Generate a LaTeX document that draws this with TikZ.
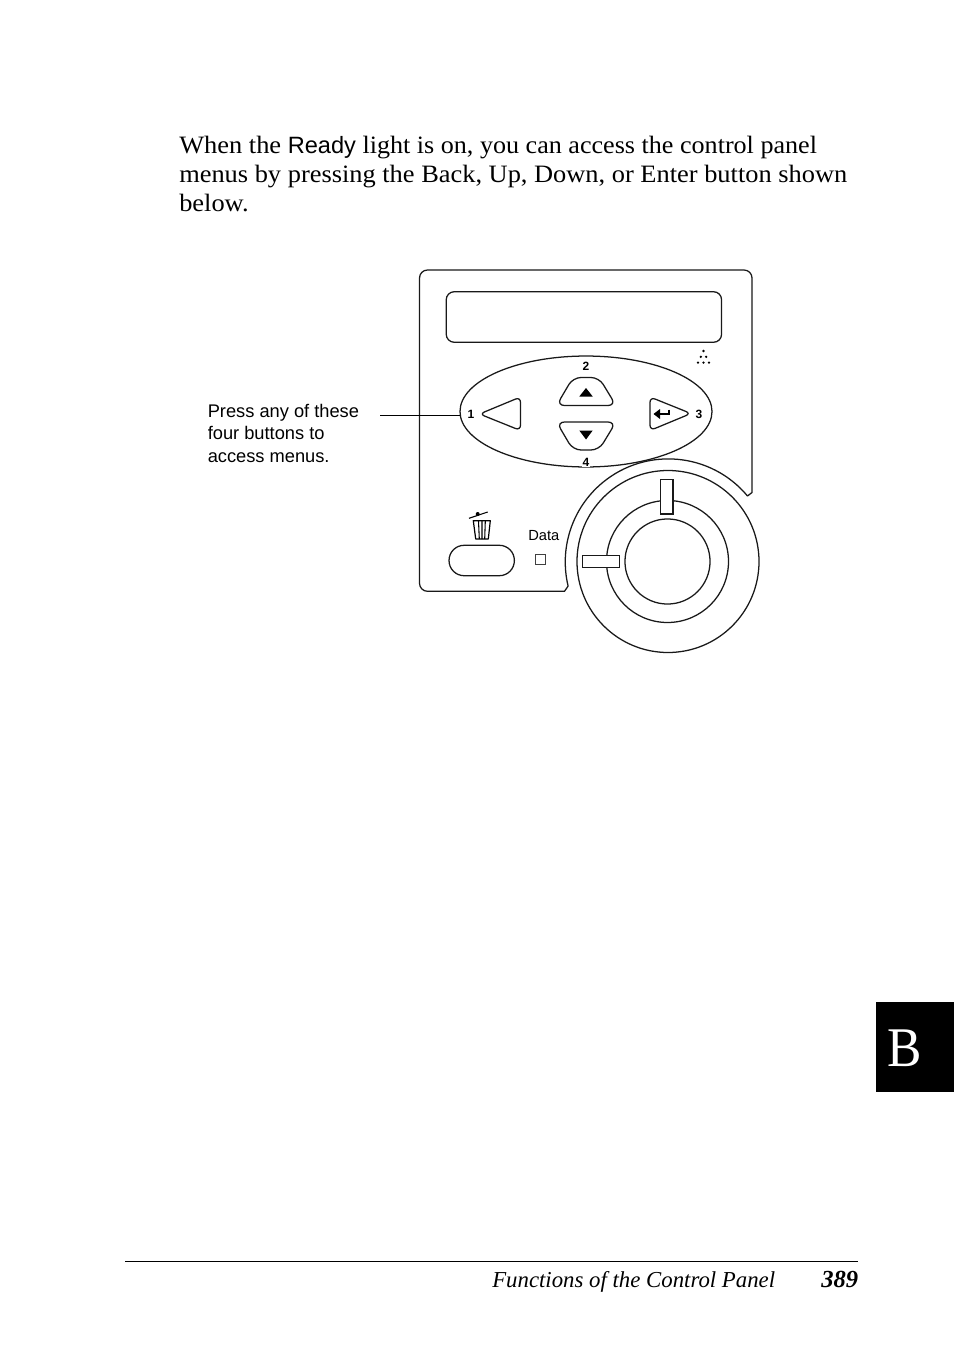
\documentclass[tikz,border=0pt]{standalone}
\usepackage{fontspec}
\setmainfont{Liberation Serif}
\newfontfamily\panelsans{Liberation Sans}
\newfontfamily\bodyserif[FakeStretch=1.056]{Liberation Serif}
\newfontfamily\firstserif[FakeStretch=1.044]{Liberation Serif}
\newfontfamily\footserif{Liberation Serif}
\newfontfamily\tabserif[FakeStretch=0.92]{Liberation Serif}
\tikzset{
  x=0.75pt,y=-0.75pt,
  panelline/.style={draw=black!90,line width=0.95pt},
  bodytext/.style={anchor=base west,inner sep=0pt,font=\bodyserif\fontsize{18.75pt}{20pt}\selectfont},
  calltext/.style={anchor=base west,inner sep=0pt,font=\panelsans\fontsize{13.7pt}{15pt}\selectfont},
  numtext/.style={inner sep=0pt,font=\panelsans\bfseries\fontsize{9pt}{10pt}\selectfont},
  ring/.style={circle,panelline,inner sep=0pt,fill=white},
  slotbox/.style={panelline,fill=white,line width=1.2pt,inner sep=0pt},
  tonerdot/.style={circle,fill=black,inner sep=0pt,minimum size=1.9pt},
}
\begin{document}
\begin{tikzpicture}
\useasboundingbox (0,0) rectangle (954,1355);
% body text
\node[bodytext] (l1) at (179,154) {When the {\panelsans\fontsize{17.7pt}{20pt}\selectfont Ready} {\firstserif light is on, you can access the control panel}};
\node[bodytext] (l2) at (179,182.5) {menus by pressing the Back, Up, Down, or Enter button shown};
\node[bodytext] (l3) at (179,211.5) {below.};
% panel outline
\draw[panelline,line join=round] (747.5,496) arc[start angle=39.8,end angle=193.5,radius=77.3pt]
  -- (564.5,591.3) [rounded corners=6] -- (419.5,591.3) -- (419.5,270) -- (752,270) [sharp corners] -- (752,492.5) -- cycle;
% display
\node[panelline,rounded corners=6,minimum width=206.5pt,minimum height=37.9pt,inner sep=0pt] (display) at (583.9,317) {};
% toner icon
\foreach \n/\a/\b in {a/703.5/351,b/700.8/356.8,c/706.2/356.8,d/698/362.6,e/703.5/362.6,f/709/362.6}
  \node[tonerdot] (dot\n) at (\a,\b) {};
% ellipse
\draw[panelline] (586,411.5) ellipse[x radius=94.5pt,y radius=41.6pt];
\coordinate (ellipseleft) at (460,415);
\coordinate (leadstart) at (380,415);
\draw[draw=black,line width=0.7pt] (leadstart) -- (ellipseleft);
% buttons
\draw[panelline,rounded corners=4] (479.5,414) -- (520.5,397) -- (520.5,430.5) -- cycle;
\draw[panelline,rounded corners=6] (556.5,405.5) -- (573,377.5) -- (599,377.5) -- (616,405.5) -- cycle;
\draw[panelline,rounded corners=6] (556.5,422) -- (573,450) -- (599,450) -- (616,422) -- cycle;
\draw[panelline,rounded corners=4] (650,397) -- (650,430.5) -- (691,413.5) -- cycle;
\fill[black] (579.3,396.5) -- (592.7,396.5) -- (586,388) -- cycle;
\fill[black] (579.3,430.5) -- (592.7,430.5) -- (586,439.5) -- cycle;
% enter arrow
\draw[black,line width=1.8pt] (669,409.5) -- (669,414) -- (658,414);
\fill[black] (653.5,414) -- (660,409) -- (660,419) -- cycle;
% numbers
\node[numtext] (n1) at (471,414) {1};
\node[numtext] (n2) at (586,366) {2};
\node[numtext] (n3) at (699,414) {3};
\node[numtext,fill=white,inner sep=0.3pt] (n4) at (586,462.5) {4};
% callout
\node[calltext] (c1) at (207.5,417) {Press any of these};
\node[calltext] (c2) at (207.5,439.5) {four buttons to};
\node[calltext] (c3) at (207.5,462) {access menus.};
% dial
\node[ring,minimum size=136.5pt] (outer) at (668,561.5) {};
\node[ring,minimum size=91.5pt] (mid) at (667.5,561.5) {};
\node[ring,minimum size=63.8pt] (inner) at (667.5,561.5) {};
\node[slotbox,minimum width=9.3pt,minimum height=26pt] (vslot) at (666.5,496.7) {};
\node[slotbox,minimum width=28pt,minimum height=9pt] (hslot) at (601,561.3) {};
% trash
\draw[black,line width=0.8pt] (469,518.3) -- (487.7,512);
\node[circle,fill=black,inner sep=0pt,minimum size=3pt] (knob) at (477.7,514) {};
\draw[black,line width=0.9pt,line join=round] (473.3,520.7) -- (490.3,520.7) -- (488.3,539) -- (475.7,539) -- cycle;
\draw[black,line width=0.8pt] (478.5,521) -- (479.3,539) (482,521) -- (482,539) (485.3,521) -- (484.7,539);
% trash button
\node[panelline,rounded corners=11.3pt,minimum width=49pt,minimum height=22.8pt,inner sep=0pt] (stop) at (481.7,560.5) {};
% data
\node[anchor=base west,inner sep=0pt,font=\panelsans\fontsize{11pt}{12pt}\selectfont] (datatext) at (528,540) {Data};
\node[draw=black!75,line width=0.9pt,minimum size=7.4pt,inner sep=0pt] (dataled) at (540.3,559.8) {};
% tab
\node[fill=black,minimum width=58.5pt,minimum height=67.5pt,inner sep=0pt] (tab) at (915,1047) {};
\node[text=white,anchor=base,inner sep=0pt,font=\tabserif\fontsize{42pt}{44pt}\selectfont] (tabb) at (905,1066) {B};
% footer
\coordinate (ruleleft) at (125,1261);
\coordinate (ruleright) at (858,1261);
\draw[black,line width=0.7pt] (ruleleft) -- (ruleright);
\node[anchor=base west,inner sep=0pt,font=\footserif\itshape\fontsize{17.1pt}{20pt}\selectfont] (foot) at (492,1287) {Functions of the Control Panel};
\node[anchor=base east,inner sep=0pt,font=\footserif\bfseries\itshape\fontsize{18.4pt}{20pt}\selectfont] (page) at (858.5,1287) {389};
\end{tikzpicture}
\end{document}
